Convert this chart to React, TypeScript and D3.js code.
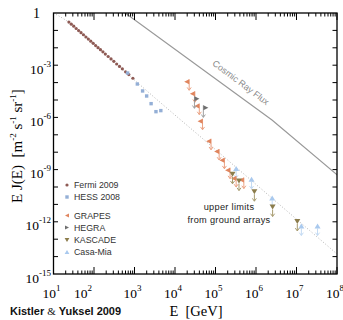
import React from "react";
import * as d3 from "d3";

// ---- data (log10 values) ----
const fermiLogE = [1.38, 1.44, 1.5, 1.56, 1.62, 1.68, 1.74, 1.8, 1.86, 1.92, 1.98, 2.04, 2.1, 2.16, 2.22, 2.28, 2.35, 2.42, 2.49, 2.56, 2.63, 2.7, 2.78, 2.86, 2.96];
const fermiLogF = [-0.52, -0.64, -0.76, -0.89, -1.01, -1.13, -1.25, -1.38, -1.5, -1.62, -1.74, -1.87, -1.99, -2.11, -2.23, -2.36, -2.5, -2.64, -2.78, -2.93, -3.07, -3.21, -3.38, -3.54, -3.75];

const hessLogE = [2.83, 3.07, 3.2, 3.3, 3.41, 3.53, 3.65];
const hessLogF = [-3.45, -4.08, -4.48, -4.77, -5.21, -5.67, -5.61];

const grapesLogE = [4.35, 4.49, 4.6, 4.68, 4.89, 5.09, 5.22, 5.36, 5.51, 5.7];
const grapesLogF = [-3.98, -4.67, -5.38, -6.25, -7.4, -7.99, -8.49, -9.06, -9.54, -9.63];

const hegraLogE = [4.48, 4.7];
const hegraLogF = [-4.96, -5.48];

const kascadeLogE = [5.42, 5.58, 5.96, 6.41, 7.02];
const kascadeLogF = [-9.27, -9.66, -10.27, -11.15, -11.98];

const casaLogE = [5.51, 5.89, 6.4, 7.12, 7.52];
const casaLogF = [-8.94, -9.56, -10.63, -12.24, -12.24];

const crLogE = [2.6, 6.395, 8.2];
const crLogF = [0.29, -6.15, -9.69];

const fitLogE = [1.0, 1.38, 2.0, 3.0, 5.0, 8.0];
const fitLogF = [0, -0.53, -1.75, -3.85, -7.85, -13.85];

const xTickExps = [1, 2, 3, 4, 5, 6, 7, 8];
const yTickExps = [0, -3, -6, -9, -12, -15];

const legendNames = ["Fermi 2009", "HESS 2008", "GRAPES", "HEGRA", "KASCADE", "Casa-Mia"];

// ---- styles ----
const C = {
  fermi: "#8e5a54",
  hess: "#94afd6",
  grapes: "#e0855e",
  grapesArrow: "#eba283",
  hegra: "#6f6f6f",
  kascade: "#8c7d4c",
  casa: "#a9c9ee",
  casaArrow: "#c3daf3",
};

const serif = "'Liberation Serif', 'DejaVu Serif', serif";
const sans = "'Liberation Sans', Arial, sans-serif";

const L = 53.5, R = 337, T = 13, B = 274;
const x = d3.scaleLog().domain([1e1, 1e8]).range([L, R]);
const y = d3.scaleLog().domain([1e-15, 1]).range([B, T]);
const px = (le: number) => x(Math.pow(10, le));
const py = (lf: number) => y(Math.pow(10, lf));

function Arrow({ cx, top, len, color }: { cx: number; top: number; len: number; color: string }) {
  const bot = top + len;
  return (
    <g stroke={color} strokeWidth={1} fill="none">
      <line x1={cx} y1={top} x2={cx} y2={bot} />
      <polyline points={`${cx - 2},${bot - 2.8} ${cx},${bot} ${cx + 2},${bot - 2.8}`} />
    </g>
  );
}

function markerPath(kind: string, cx: number, cy: number, s = 1) {
  switch (kind) {
    case "left":
      return `M${cx},${cy - 3 * s}L${cx},${cy + 2 * s}L${cx - 5 * s},${cy - 0.5 * s}Z`;
    case "right":
      return `M${cx},${cy - 3 * s}L${cx},${cy + 2 * s}L${cx + 5 * s},${cy - 0.5 * s}Z`;
    case "down":
      return `M${cx - 3 * s},${cy - 2.5 * s}L${cx + 3 * s},${cy - 2.5 * s}L${cx},${cy + 2.5 * s}Z`;
    case "up":
      return `M${cx - 3 * s},${cy + 2.5 * s}L${cx + 3 * s},${cy + 2.5 * s}L${cx},${cy - 2.5 * s}Z`;
  }
  return "";
}

export default function App() {
  const minorX: number[] = [];
  for (let e = 1; e < 8; e++) for (let m = 2; m <= 9; m++) minorX.push(m * Math.pow(10, e));
  const majorX = xTickExps.map((e) => Math.pow(10, e));
  const yTicks: number[] = [];
  for (let e = -14; e <= -1; e++) yTicks.push(Math.pow(10, e));

  const fitLine = d3
    .line<number>()
    .x((d, i) => px(fitLogE[i]))
    .y((d, i) => py(fitLogF[i]))
    .curve(d3.curveMonotoneX)(fitLogE);
  const crLine = d3
    .line<number>()
    .x((d, i) => px(crLogE[i]))
    .y((d, i) => py(crLogF[i]))(crLogE);

  const xLabelDx = [0, -9, 0, 0, 0, 0, 0, 0];

  const legendY = [185, 197, 216, 228, 240, 252];

  return (
    <svg
      width={343}
      height={320}
      style={{ position: "fixed", left: 0, top: 0, background: "#fff" }}
    >
      <defs>
        <clipPath id="plot">
          <rect x={L} y={T} width={R - L} height={B - T} />
        </clipPath>
      </defs>

      {/* lines */}
      <g clipPath="url(#plot)">
        <path d={fitLine || ""} fill="none" stroke="#b4b4b4" strokeWidth={1} strokeDasharray="1 2" />
        <path d={crLine || ""} fill="none" stroke="#9a9a9a" strokeWidth={1.2} />
      </g>

      <text
        x={0}
        y={0}
        transform={`translate(239,85) rotate(37)`}
        textAnchor="middle"
        fontFamily={sans}
        fontSize={9}
        fill="#8a8a8a"
      >
        Cosmic Ray Flux
      </text>

      {/* Fermi */}
      {fermiLogE.map((e, i) => (
        <circle key={"f" + i} cx={px(e)} cy={py(fermiLogF[i])} r={1.6} fill={C.fermi} />
      ))}
      {/* HESS */}
      {hessLogE.map((e, i) => (
        <rect key={"h" + i} x={px(e) - 1.7} y={py(hessLogF[i]) - 1.7} width={3.4} height={3.4} fill={C.hess} />
      ))}

      {/* Casa-Mia */}
      {casaLogE.map((e, i) => {
        const cx = px(e), cy = py(casaLogF[i]);
        return (
          <g key={"c" + i}>
            <Arrow cx={cx} top={cy + 2.5} len={7} color={C.casaArrow} />
            <path d={markerPath("up", cx, cy)} fill={C.casa} />
          </g>
        );
      })}
      {/* GRAPES */}
      {grapesLogE.map((e, i) => {
        const cx = px(e), cy = py(grapesLogF[i]);
        return (
          <g key={"g" + i}>
            <Arrow cx={cx} top={cy - 3} len={11} color={C.grapesArrow} />
            <path d={markerPath("left", cx, cy)} fill={C.grapes} />
          </g>
        );
      })}
      {/* HEGRA */}
      {hegraLogE.map((e, i) => {
        const cx = px(e), cy = py(hegraLogF[i]);
        return (
          <g key={"he" + i}>
            <Arrow cx={cx} top={cy - 3} len={12} color="#a0a0a0" />
            <path d={markerPath("right", cx, cy)} fill={C.hegra} />
          </g>
        );
      })}
      {/* KASCADE */}
      {kascadeLogE.map((e, i) => {
        const cx = px(e), cy = py(kascadeLogF[i]);
        return (
          <g key={"k" + i}>
            <Arrow cx={cx} top={cy + 2.5} len={7} color="#a89c70" />
            <path d={markerPath("down", cx, cy)} fill={C.kascade} />
          </g>
        );
      })}

      {/* frame */}
      <rect x={L} y={T} width={R - L} height={B - T} fill="none" stroke="#000" strokeWidth={1.3} />

      {/* x ticks top & bottom */}
      <g stroke="#000" strokeWidth={1}>
        {minorX.map((v, i) => (
          <g key={"mx" + i}>
            <line x1={x(v)} x2={x(v)} y1={B} y2={B - 3.5} />
            <line x1={x(v)} x2={x(v)} y1={T} y2={T + 3.5} />
          </g>
        ))}
        {majorX.map((v, i) => (
          <g key={"Mx" + i}>
            <line x1={x(v)} x2={x(v)} y1={B} y2={B - 7} />
            <line x1={x(v)} x2={x(v)} y1={T} y2={T + 7} />
          </g>
        ))}
        {yTicks.map((v, i) => (
          <g key={"yt" + i}>
            <line x1={L} x2={L + 4.5} y1={y(v)} y2={y(v)} />
            <line x1={R} x2={R - 4.5} y1={y(v)} y2={y(v)} />
          </g>
        ))}
      </g>

      {/* x tick labels */}
      {xTickExps.map((e, i) => (
        <text
          key={"xl" + i}
          x={x(Math.pow(10, e)) - 11 + xLabelDx[i]}
          y={298}
          fontFamily={serif}
          fontSize={13.5}
          fill="#000"
        >
          10
          <tspan dy={-7} fontSize={9}>
            {e}
          </tspan>
        </text>
      ))}

      {/* y tick labels */}
      {yTickExps.map((e, i) =>
        e === 0 ? (
          <text key={"yl" + i} x={40} y={y(1) + 4.5} textAnchor="end" fontFamily={serif} fontSize={14} fill="#000">
            1
          </text>
        ) : (
          <text
            key={"yl" + i}
            x={51}
            y={y(Math.pow(10, e)) + 8.5}
            textAnchor="end"
            fontFamily={serif}
            fontSize={13.5}
            fill="#000"
          >
            10
            <tspan dy={-7} fontSize={9}>
              {"-" + Math.abs(e)}
            </tspan>
          </text>
        )
      )}

      {/* axis titles */}
      <text x={196} y={316} textAnchor="middle" fontFamily={serif} fontSize={14.5} fill="#000" style={{ whiteSpace: "pre" }}>
        {"E  [GeV]"}
      </text>
      <text
        x={0}
        y={0}
        transform="translate(22,146) rotate(-90)"
        textAnchor="middle"
        fontFamily={serif}
        fontSize={15}
        fill="#000"
        style={{ whiteSpace: "pre" }}
      >
        {"E J(E)  [m"}
        <tspan dy={-6} fontSize={9}>-2</tspan>
        <tspan dy={6}>{" s"}</tspan>
        <tspan dy={-6} fontSize={9}>-1</tspan>
        <tspan dy={6}>{" sr"}</tspan>
        <tspan dy={-6} fontSize={9}>-1</tspan>
        <tspan dy={6}>]</tspan>
      </text>

      {/* credit */}
      <text x={10} y={315} fontFamily={sans} fontWeight="bold" fontSize={11} fill="#111">
        Kistler <tspan fontFamily={serif} fontWeight="normal">&amp;</tspan> Yuksel 2009
      </text>

      {/* annotation */}
      <text x={229} y={210} textAnchor="middle" fontFamily={sans} fontSize={9.2} fill="#222" letterSpacing={0.3}>
        upper limits
      </text>
      <text x={229} y={223} textAnchor="middle" fontFamily={sans} fontSize={9.2} fill="#222" letterSpacing={0.3}>
        from ground arrays
      </text>

      {/* legend */}
      <g>
        <circle cx={67} cy={legendY[0]} r={1.6} fill={C.fermi} />
        <rect x={65.3} y={legendY[1] - 1.7} width={3.4} height={3.4} fill={C.hess} />
        <path d={markerPath("left", 69, legendY[2], 0.8)} fill={C.grapes} />
        <path d={markerPath("right", 65, legendY[3], 0.8)} fill={C.hegra} />
        <path d={markerPath("down", 67, legendY[4], 0.8)} fill={C.kascade} />
        <path d={markerPath("up", 67, legendY[5], 0.8)} fill={C.casa} />
        {legendNames.map((n, i) => (
          <text key={"ln" + i} x={74} y={legendY[i] + 3.2} fontFamily={sans} fontSize={8.8} fill="#333">
            {n}
          </text>
        ))}
      </g>
    </svg>
  );
}
